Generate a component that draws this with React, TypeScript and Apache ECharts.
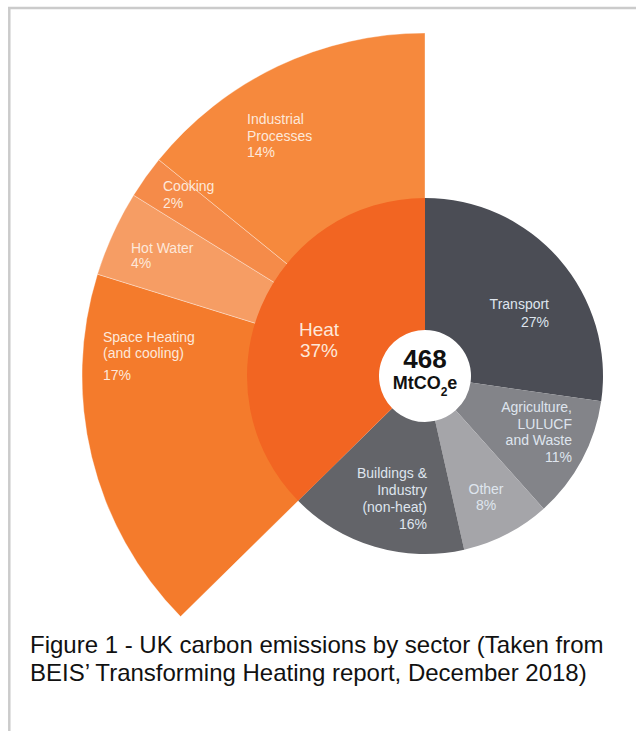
import React, { useEffect, useRef } from "react";
import * as echarts from "echarts";

// ---- data ----
const sectorNames = [
  "Transport",
  "Agriculture,\nLULUCF\nand Waste",
  "Other",
  "Buildings &\nIndustry\n(non-heat)",
  "Heat",
];
const sectorValues = [27, 11, 8, 16, 37];
const heatNames = ["Space Heating\n(and cooling)", "Hot Water", "Cooking", "Industrial\nProcesses"];
const heatValues = [17, 4, 2, 14];
const totalValue = "468";
const totalUnit = ["MtCO", "2", "e"];
const captionLines = [
  "Figure 1 - UK carbon emissions by sector (Taken from",
  "BEIS\u2019 Transforming Heating report, December 2018)",
];

// ---- styles ----
const sectorColors = ["#4b4d55", "#838489", "#a5a5a9", "#636469", "#f26522"];
const heatColors = ["#f47b2c", "#f69d64", "#f58b49", "#f6893d"];
const grayText = "#dfe5ee";
const orangeText = "#fde8da";
const FONT = '"Liberation Sans", Arial, sans-serif';
const CX = 425;
const CY = 376;

type LabelCfg = { x: number; y: number; align: string; size: number; lh: number; pctLh: number; color: string };
const sectorLabels: LabelCfg[] = [
  { x: 549, y: 295, align: "right", size: 14, lh: 18, pctLh: 18, color: grayText },
  { x: 572, y: 399, align: "right", size: 14, lh: 16.5, pctLh: 16.5, color: grayText },
  { x: 486, y: 481, align: "center", size: 14, lh: 16, pctLh: 16, color: grayText },
  { x: 427, y: 464, align: "right", size: 14, lh: 17, pctLh: 17, color: grayText },
  { x: 319, y: 319, align: "center", size: 19, lh: 21, pctLh: 21, color: orangeText },
];
const heatLabels: LabelCfg[] = [
  { x: 103, y: 329, align: "left", size: 14, lh: 16, pctLh: 28, color: orangeText },
  { x: 131, y: 240, align: "left", size: 14, lh: 15.5, pctLh: 15.5, color: orangeText },
  { x: 163, y: 177, align: "left", size: 14, lh: 17.5, pctLh: 17.5, color: orangeText },
  { x: 247, y: 111, align: "left", size: 14, lh: 16.5, pctLh: 16.5, color: orangeText },
];

function richLabel(name: string, value: number, cfg: LabelCfg) {
  return {
    show: true,
    position: "inside",
    align: cfg.align,
    formatter: name.split("\n").map((l) => `{a|${l}}`).join("\n") + `\n{b|${value}%}`,
    rich: {
      a: { fontSize: cfg.size, lineHeight: cfg.lh, color: cfg.color, fontFamily: FONT, align: cfg.align },
      b: { fontSize: cfg.size, lineHeight: cfg.pctLh, color: cfg.color, fontFamily: FONT, align: cfg.align },
    },
  };
}

export default function App() {
  const ref = useRef<HTMLDivElement>(null);
  useEffect(() => {
    if (!ref.current) return;
    const chart = echarts.init(ref.current, null, { renderer: "svg" });
    const nonHeat = sectorValues.slice(0, 4).reduce((a, b) => a + b, 0);

    const innerData = sectorNames.map((n, i) => ({
      name: n,
      value: sectorValues[i],
      itemStyle: { color: sectorColors[i] },
      label: richLabel(n, sectorValues[i], sectorLabels[i]),
    }));
    const outerData: any[] = [
      { name: "rest", value: nonHeat, itemStyle: { color: "rgba(0,0,0,0)", borderWidth: 0 }, label: { show: false } },
      ...heatNames.map((n, i) => ({
        name: n,
        value: heatValues[i],
        itemStyle: { color: heatColors[i] },
        label: richLabel(n, heatValues[i], heatLabels[i]),
      })),
    ];

    chart.setOption({
      animation: false,
      backgroundColor: "#ffffff",
      series: [
        {
          type: "pie",
          z: 1,
          silent: true,
          center: [CX, CY],
          radius: [120, 343],
          startAngle: 90,
          clockwise: true,
          avoidLabelOverlap: false,
          labelLine: { show: false },
          itemStyle: { borderColor: "rgba(255,255,255,0.35)", borderWidth: 1 },
          data: outerData,
          labelLayout: (p: any) => {
            if (p.dataIndex === 0) return {};
            const c = heatLabels[p.dataIndex - 1];
            return { x: c.x, y: c.y, align: c.align, verticalAlign: "top" };
          },
        },
        {
          type: "pie",
          z: 3,
          silent: true,
          center: [CX, CY],
          radius: [46, 178],
          startAngle: 90,
          clockwise: true,
          avoidLabelOverlap: false,
          labelLine: { show: false },
          itemStyle: { borderWidth: 0 },
          data: innerData,
          labelLayout: (p: any) => {
            const c = sectorLabels[p.dataIndex];
            return { x: c.x, y: c.y, align: c.align, verticalAlign: "top" };
          },
        },
      ],
      graphic: [
        { type: "line", shape: { x1: 8, y1: 8, x2: 636, y2: 8 }, style: { stroke: "#cbcbcb", lineWidth: 2.5 } },
        { type: "line", shape: { x1: 9.3, y1: 8, x2: 9.3, y2: 731 }, style: { stroke: "#cbcbcb", lineWidth: 2.5 } },
        {
          type: "text",
          x: CX,
          y: 359,
          z: 10,
          style: {
            text: totalValue,
            fill: "#111111",
            font: `bold 26px ${FONT}`,
            align: "center",
            verticalAlign: "middle",
          },
        },
        {
          type: "text",
          x: CX,
          y: 383,
          z: 10,
          style: {
            text: `{a|${totalUnit[0]}}{s|${totalUnit[1]}}{a|${totalUnit[2]}}`,
            align: "center",
            verticalAlign: "middle",
            rich: {
              a: { fontSize: 18, fontWeight: "bold", fontFamily: FONT, fill: "#111111", lineHeight: 30 },
              s: { fontSize: 12, fontWeight: "bold", fontFamily: FONT, fill: "#111111", lineHeight: 12, verticalAlign: "bottom" },
            },
          },
        },
        ...captionLines.map((t, i) => ({
          type: "text",
          x: 30,
          y: 644 + i * 28,
          style: {
            text: t,
            fill: "#111111",
            font: `24px ${FONT}`,
            align: "left",
            verticalAlign: "middle",
          },
        })),
      ],
    });
    return () => chart.dispose();
  }, []);
  return (
    <div
      ref={ref}
      style={{ position: "absolute", left: 0, top: 0, width: 636, height: 731 }}
    />
  );
}
